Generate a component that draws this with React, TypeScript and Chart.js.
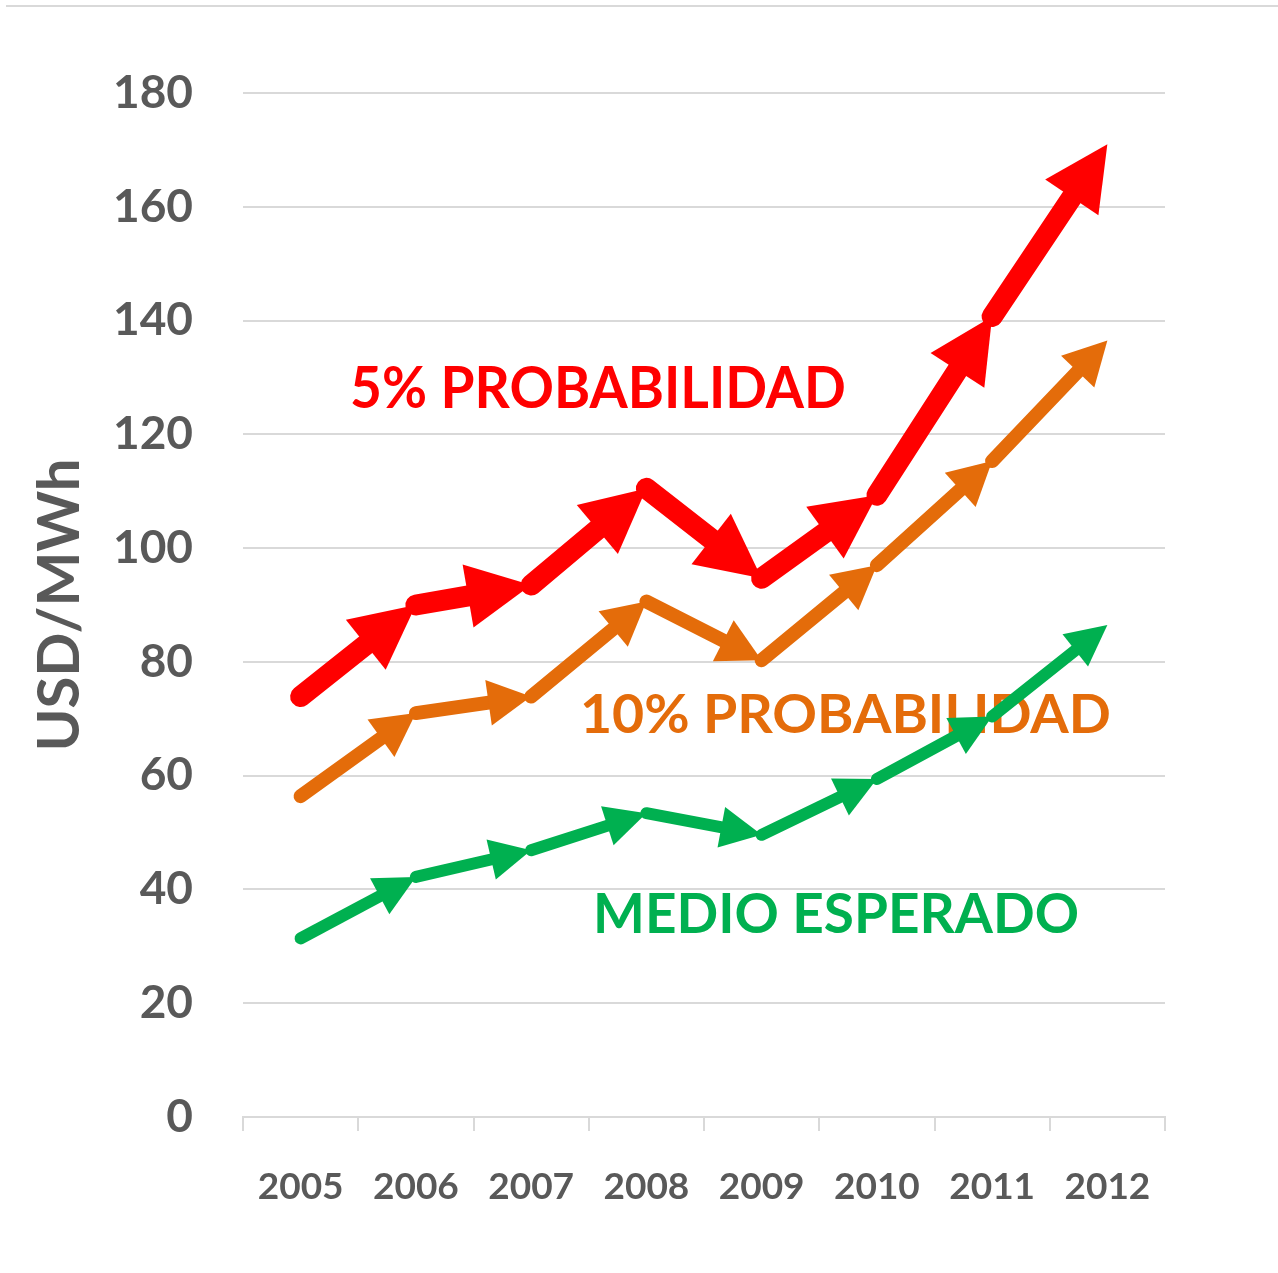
import React, { useEffect, useRef } from "react";
import { Chart, registerables } from "chart.js";

Chart.register(...registerables);

const categories = ["2005", "2006", "2007", "2008", "2009", "2010", "2011", "2012"];
const prob5 = [73.9, 90.0, 93.5, 110.5, 94.7, 109.3, 140.7, 171];
const prob10 = [56.4, 71.0, 73.9, 90.6, 80.3, 97.0, 115.3, 136.5];
const medio = [31.4, 42.2, 46.9, 53.4, 49.6, 59.4, 70.4, 86.5];
const seriesNames = ["5% PROBABILIDAD", "10% PROBABILIDAD", "MEDIO ESPERADO"];
const yTitle = "USD/MWh";

const W = 1278;
const H = 1273;
const FONT = "Lato, 'Open Sans', sans-serif";
const GRAY = "#595959";
const GRID = "#D9D9D9";

const STYLES = [
  { color: "#FF0000", width: 21, headLen: 64, headW: 64 },
  { color: "#E46C0A", width: 14, headLen: 43, headW: 46 },
  { color: "#00B050", width: 12, headLen: 41, headW: 41 },
];

// label layout: left x, baseline y, ink width, cap height (pixels on canvas)
const LABEL_LAYOUT = [
  { left: 352, base: 408, width: 492, cap: 41.5 },
  { left: 583, base: 733, width: 526, cap: 38.5 },
  { left: 597, base: 933, width: 480, cap: 40 },
];

const arrowPlugin = {
  id: "arrowLines",
  afterDatasetsDraw(chart: any) {
    const ctx = chart.ctx as CanvasRenderingContext2D;
    const order = [0, 1, 2];
    order.forEach((i) => {
      const meta = chart.getDatasetMeta(i);
      const st = STYLES[i];
      const pts = meta.data.map((p: any) => ({ x: p.x, y: p.y }));
      ctx.save();
      ctx.fillStyle = st.color;
      ctx.strokeStyle = st.color;
      ctx.lineWidth = st.width;
      ctx.lineCap = "round";
      ctx.lineJoin = "round";
      for (let k = 1; k < pts.length; k++) {
        const a = pts[k - 1];
        const b = pts[k];
        const dx = b.x - a.x;
        const dy = b.y - a.y;
        const len = Math.hypot(dx, dy);
        const ux = dx / len;
        const uy = dy / len;
        const bx = b.x - ux * st.headLen;
        const by = b.y - uy * st.headLen;
        ctx.beginPath();
        ctx.moveTo(a.x, a.y);
        ctx.lineTo(bx + ux * 2, by + uy * 2);
        ctx.stroke();
        ctx.beginPath();
        ctx.moveTo(b.x, b.y);
        ctx.lineTo(bx - uy * st.headW / 2, by + ux * st.headW / 2);
        ctx.lineTo(bx + uy * st.headW / 2, by - ux * st.headW / 2);
        ctx.closePath();
        ctx.fill();
      }
      ctx.restore();
    });
  },
};

const labelPlugin = {
  id: "seriesLabels",
  beforeDatasetsDraw(chart: any) {
    const ctx = chart.ctx as CanvasRenderingContext2D;
    seriesNames.forEach((txt, i) => {
      const L = LABEL_LAYOUT[i];
      const size = L.cap / 0.7165;
      ctx.save();
      ctx.font = `bold ${size}px ${FONT}`;
      ctx.textBaseline = "alphabetic";
      ctx.textAlign = "left";
      const m = ctx.measureText(txt);
      const ink = m.actualBoundingBoxRight + m.actualBoundingBoxLeft;
      const sx = L.width / ink;
      ctx.translate(L.left + m.actualBoundingBoxLeft * sx, L.base);
      ctx.scale(sx, 1);
      ctx.fillStyle = STYLES[i].color;
      ctx.fillText(txt, 0, 0);
      ctx.restore();
    });
  },
};

export default function App() {
  const ref = useRef<HTMLCanvasElement | null>(null);

  useEffect(() => {
    if (!ref.current) return;
    const chart = new Chart(ref.current, {
      type: "line",
      data: {
        labels: categories,
        datasets: [
          { label: seriesNames[0], data: prob5, borderColor: STYLES[0].color, showLine: false, pointRadius: 0 },
          { label: seriesNames[1], data: prob10, borderColor: STYLES[1].color, showLine: false, pointRadius: 0 },
          { label: seriesNames[2], data: medio, borderColor: STYLES[2].color, showLine: false, pointRadius: 0 },
        ],
      },
      options: {
        responsive: false,
        animation: false,
        layout: { padding: { left: 0, right: 113, top: 93, bottom: 0 } },
        plugins: {
          legend: { display: false },
          tooltip: { enabled: false },
        },
        scales: {
          x: {
            type: "category",
            offset: true,
            grid: {
              offset: true,
              drawOnChartArea: false,
              drawTicks: true,
              tickLength: 14,
              color: GRID,
              lineWidth: 2,
            },
            border: { display: true, color: GRID, width: 2 },
            ticks: {
              color: GRAY,
              padding: 34,
              font: { family: FONT, size: 37, weight: "bold" },
              maxRotation: 0,
              autoSkip: false,
            },
            afterFit: (scale: any) => {
              scale.height = H - 1117;
            },
          },
          y: {
            min: 0,
            max: 180,
            grid: { color: GRID, lineWidth: 2, drawTicks: false },
            border: { display: false },
            ticks: {
              stepSize: 20,
              color: GRAY,
              padding: 50,
              font: { family: FONT, size: 46, weight: "bold" },
            },
            title: {
              display: true,
              text: yTitle,
              color: GRAY,
              font: { family: FONT, size: 58, weight: "bold" },
              padding: { top: 25, bottom: 0 },
            },
            afterFit: (scale: any) => {
              scale.width = 243;
            },
          },
        },
      },
      plugins: [labelPlugin, arrowPlugin],
    });
    return () => chart.destroy();
  }, []);

  return (
    <div style={{ position: "absolute", left: 0, top: 0, width: W, height: H, background: "#fff" }}>
      <div style={{ position: "absolute", left: 6, top: 5, width: W - 6, height: 2, background: GRID }} />
      <canvas ref={ref} width={W} height={H} style={{ display: "block", width: W, height: H }} />
    </div>
  );
}
